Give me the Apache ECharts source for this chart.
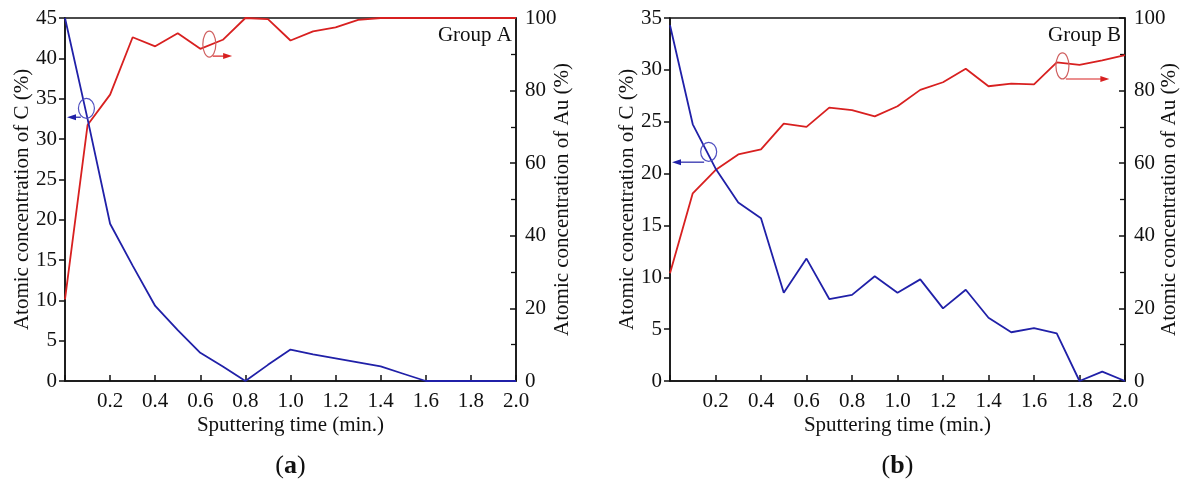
<!DOCTYPE html>
<html>
<head>
<meta charset="utf-8">
<script src="https://cdn.jsdelivr.net/npm/echarts@6/dist/echarts.min.js"></script>
<style>
html,body{margin:0;padding:0;background:#fff;}
#chart{width:1185px;height:481px;}
</style>
</head>
<body>
<div id="chart"></div>
<script>
// ---- data ----
const times = [0,0.1,0.2,0.3,0.4,0.5,0.6,0.7,0.8,0.9,1.0,1.1,1.2,1.3,1.4,1.5,1.6,1.7,1.8,1.9,2.0];
const carbonA = [45,32.5,19.5,14.3,9.3,6.3,3.5,1.8,0,2.0,3.9,3.3,2.8,2.3,1.8,0.9,0,0,0,0,0];
const goldA = [22.5,70.5,78.9,94.7,92.2,95.8,91.5,94.0,100,99.7,93.8,96.3,97.4,99.5,100,100,100,100,100,100,100];
const carbonB = [34.3,24.75,20.5,17.2,15.7,8.5,11.8,7.9,8.3,10.1,8.5,9.8,7.0,8.8,6.1,4.7,5.1,4.6,0,0.9,0];
const goldB = [29.7,51.7,58.1,62.4,63.8,70.9,70.0,75.3,74.6,72.9,75.7,80.2,82.3,86.0,81.2,81.9,81.7,87.8,87.1,88.3,89.8];
const xTicks = {min:0, max:2, interval:0.2};
const leftMaxA = 45, leftMaxB = 35, rightMax = 100;
const panelTitles = ['Group A','Group B'];
const panelLetters = ['a','b'];
const xName = 'Sputtering time (min.)';
const yLeftName = 'Atomic concentration of C (%)';
const yRightName = 'Atomic concentration of Au (%)';

const FONT = 'Liberation Serif';
const FS = 21;
const BLUE = '#2020a8', RED = '#d82020';

const pairs = (xs, ys) => xs.map((x,i)=>[x, ys[i]]);

function xAxis(gi){
  return {
    type:'value', gridIndex:gi, min:xTicks.min, max:xTicks.max, interval:xTicks.interval,
    name:xName, nameLocation:'middle', nameGap:34, nameMoveOverlap:false,
    nameTextStyle:{fontFamily:FONT, fontSize:FS, color:'#111'},
    axisLine:{lineStyle:{color:'#111', width:1.5}},
    axisTick:{inside:true, length:6, lineStyle:{color:'#111', width:1.5}},
    axisLabel:{fontFamily:FONT, fontSize:FS, color:'#111', margin:10,
      formatter:v => v===0 ? '' : v.toFixed(1)},
    splitLine:{show:false}
  };
}
function yLeft(gi, max, gap){
  return {
    type:'value', gridIndex:gi, min:0, max:max, interval:5, position:'left',
    name:yLeftName, nameLocation:'middle', nameGap:gap, nameRotate:90, nameMoveOverlap:false,
    nameTextStyle:{fontFamily:FONT, fontSize:FS, color:'#111'},
    axisLine:{show:true, lineStyle:{color:'#111', width:1.5}},
    axisTick:{show:true, inside:false, length:6, lineStyle:{color:'#111', width:1.5}},
    axisLabel:{fontFamily:FONT, fontSize:FS, color:'#111', margin:8},
    splitLine:{show:false}
  };
}
function yRight(gi, gap){
  return {
    type:'value', gridIndex:gi, min:0, max:rightMax, interval:20, position:'right',
    name:yRightName, nameLocation:'middle', nameGap:gap, nameRotate:90, nameMoveOverlap:false,
    nameTextStyle:{fontFamily:FONT, fontSize:FS, color:'#111'},
    axisLine:{show:true, lineStyle:{color:'#111', width:1.5}},
    axisTick:{show:true, inside:true, length:6, lineStyle:{color:'#111', width:1.5}},
    minorTick:{show:true, splitNumber:2, length:5, lineStyle:{color:'#111', width:1.3}},
    axisLabel:{fontFamily:FONT, fontSize:FS, color:'#111', margin:9},
    splitLine:{show:false}
  };
}
function lineSeries(xi, yi, data, color){
  return {type:'line', xAxisIndex:xi, yAxisIndex:yi, data:data, symbol:'none',
    lineStyle:{color:color, width:1.8}, itemStyle:{color:color}, silent:true, animation:false, z:3};
}

const chart = echarts.init(document.getElementById('chart'), null, {renderer:'canvas'});
const option = {
  backgroundColor:'#fff',
  animation:false,
  grid:[
    {left:65, right:669, top:18, bottom:100, show:true, borderColor:'#111', borderWidth:1.5, backgroundColor:'transparent', outerBoundsMode:'none', containLabel:false},
    {left:670, right:60, top:18, bottom:100, show:true, borderColor:'#111', borderWidth:1.5, backgroundColor:'transparent', outerBoundsMode:'none', containLabel:false}
  ],
  xAxis:[xAxis(0), xAxis(1)],
  yAxis:[yLeft(0, leftMaxA, 32), yRight(0, 36), yLeft(1, leftMaxB, 32), yRight(1, 34)],
  series:[
    lineSeries(0, 1, pairs(times, goldA), RED),
    lineSeries(0, 0, pairs(times, carbonA), BLUE),
    lineSeries(1, 3, pairs(times, goldB), RED),
    lineSeries(1, 2, pairs(times, carbonB), BLUE)
  ]
};
chart.setOption(option);

// ---- annotations (anchored in data coordinates) ----
const annotations = [
  {xi:0, yi:0, cx:0.095, cy:33.8, rx:8, ry:10, ay:32.7, ax0:0.07, ax1:0.0, color:BLUE, ring:'#5050c0'},
  {xi:0, yi:1, cx:0.64, cy:92.8, rx:6.5, ry:13, ay:89.5, ax0:0.655, ax1:0.75, color:RED, ring:'#d06060'},
  {xi:1, yi:2, cx:0.17, cy:22.1, rx:8, ry:9.5, ay:21.1, ax0:0.15, ax1:0.0, color:BLUE, ring:'#5050c0'},
  {xi:1, yi:3, cx:1.725, cy:86.8, rx:6.5, ry:13, ay:83.2, ax0:1.74, ax1:1.94, color:RED, ring:'#d06060'}
];
const graphics = [];
annotations.forEach(a => {
  const px = v => chart.convertToPixel({xAxisIndex:a.xi}, v);
  const py = v => chart.convertToPixel({yAxisIndex:a.yi}, v);
  const cx = px(a.cx), cy = py(a.cy), y = py(a.ay), x0 = px(a.ax0), x1 = px(a.ax1);
  graphics.push({type:'ellipse', shape:{cx:cx, cy:cy, rx:a.rx, ry:a.ry}, style:{fill:'none', stroke:a.ring, lineWidth:1.2}, z:10, silent:true});
  const dir = x1 > x0 ? 1 : -1;
  const tipX = x1 + (dir>0 ? -2 : 2);
  graphics.push({type:'line', shape:{x1:x0, y1:y, x2:tipX - dir*6, y2:y}, style:{stroke:a.color, lineWidth:1.2}, z:10, silent:true});
  graphics.push({type:'polygon', shape:{points:[[tipX, y],[tipX - dir*9, y-3],[tipX - dir*9, y+3]]}, style:{fill:a.color}, z:10, silent:true});
});
// group titles and panel letters
[[0,1],[1,3]].forEach(([xi,yi], i) => {
  const x = chart.convertToPixel({xAxisIndex:xi}, xTicks.max);
  const yTop = chart.convertToPixel({yAxisIndex:yi}, rightMax);
  graphics.push({type:'text', x:x-4, y:yTop+17, style:{text:panelTitles[i], font:FS+'px "Liberation Serif"', fill:'#111', textAlign:'right', textVerticalAlign:'middle'}, z:10});
  const xl = chart.convertToPixel({xAxisIndex:xi}, xTicks.min);
  graphics.push({type:'text', x:(xl+x)/2, y:466, style:{
    text:'({b|' + panelLetters[i] + '})', font:'26px "Liberation Serif"', fill:'#111', textAlign:'center', textVerticalAlign:'middle',
    rich:{b:{fontFamily:FONT, fontSize:26, fontWeight:'bold', fill:'#111'}}}, z:10});
});
chart.setOption({graphic:graphics});
</script>
</body>
</html>
